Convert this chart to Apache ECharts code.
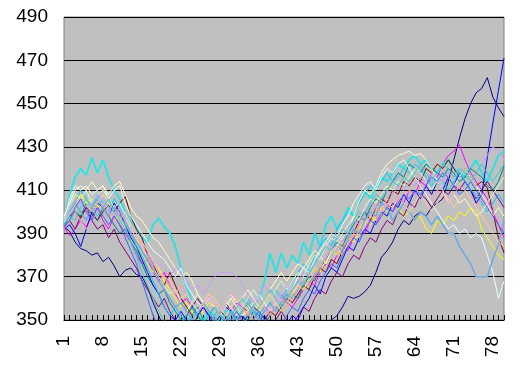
<!DOCTYPE html>
<html>
<head>
<meta charset="utf-8">
<script src="https://cdn.jsdelivr.net/npm/echarts@6/dist/echarts.min.js"></script>
<style>html,body{margin:0;padding:0;background:#fff;}#c{width:520px;height:368px;}</style>
</head>
<body>
<div id="c"></div>
<script>
var categories = [1,2,3,4,5,6,7,8,9,10,11,12,13,14,15,16,17,18,19,20,21,22,23,24,25,26,27,28,29,30,31,32,33,34,35,36,37,38,39,40,41,42,43,44,45,46,47,48,49,50,51,52,53,54,55,56,57,58,59,60,61,62,63,64,65,66,67,68,69,70,71,72,73,74,75,76,77,78,79,80];
var yTicks = [350,370,390,410,430,450,470,490];

var sNavy = [393,391,386,383,382,380,381,377,379,375, 370,373,374,371,370,365,358,352,346,344, 342,340,344,346,342,345,348,344,342,346, 349,345,343,347,344,342,346,348,344,342, 345,343,341,344,346,343,345,347,350,352, 356,361,360,361,363,366,372,379,382,386, 392,396,394,398,400,398,402,404,406,414, 424,434,443,450,455,457,462,453,448,444];
var sMagenta = [393,389,392,396,393,398,402,396,392,398, 394,390,386,380,376,378,372,368,372,366, 362,358,360,356,352,356,360,356,352,350, 354,358,356,352,356,360,356,354,358,362, 358,356,360,364,368,366,372,376,374,380, 384,382,388,392,390,396,394,400,404,400, 406,404,410,408,414,412,418,416,422,426, 428,431,424,418,414,410,406,400,394,388];
var sYellow = [396,400,404,408,404,406,402,404,400,396, 398,392,386,388,380,376,372,374,368,364, 360,356,358,354,350,354,358,356,352,356, 360,356,352,356,358,354,358,362,358,354, 358,362,366,364,370,374,372,378,382,380, 384,388,386,392,396,394,398,402,400,404, 402,398,400,396,398,392,390,396,394,398, 396,400,398,402,400,392,388,384,380,378];
var sCyan = [395,408,416,420,417,425,418,424,416,410, 406,400,396,392,388,386,394,397,393,390, 384,374,366,358,352,350,354,352,348,354, 354,350,347,352,356,360,368,381,372,381, 374,380,376,386,380,390,384,394,398,392, 396,402,398,405,410,406,412,416,414,418, 422,420,424,426,422,424,420,418,422,424, 420,418,416,420,424,418,414,420,426,428];
var sPurple = [393,396,392,398,402,396,392,394,388,392, 386,382,378,374,368,364,360,356,360,354, 350,348,352,356,360,356,352,350,354,358, 354,350,348,352,356,354,350,346,350,354, 350,348,352,356,354,360,364,362,368,372, 370,376,380,378,384,388,386,392,396,394, 400,398,404,402,408,406,402,406,410,408, 412,410,414,410,406,410,414,410,406,402];
var sDarkRed = [395,398,400,397,402,399,396,400,403,400, 404,407,398,392,388,380,376,370,366,372, 366,360,356,352,356,350,346,350,354,352, 348,352,356,354,350,346,350,354,352,356, 360,358,362,366,364,370,374,372,378,376, 382,386,390,396,400,396,402,406,404,410, 408,414,412,416,414,420,418,422,420,424, 420,416,420,416,412,414,411,400,388,381];
var sTeal = [394,396,400,398,404,400,396,402,398,394, 390,392,386,382,376,370,366,362,364,358, 354,350,352,356,352,348,352,356,352,348, 352,356,352,350,354,352,348,352,356,354, 358,362,360,366,370,368,374,378,382,386, 384,390,394,398,396,402,406,404,410,414, 418,416,422,420,418,422,420,418,416,420, 418,414,416,420,418,416,412,410,414,421];
var sBlue = [392,394,390,384,392,400,404,402,398,404, 400,394,388,384,378,372,366,362,356,352, 350,354,350,346,352,356,352,348,352,356, 354,350,352,348,346,350,352,348,350,346, 348,352,350,356,360,366,362,370,374,372, 378,384,382,388,392,390,396,400,398,404, 402,408,404,410,406,412,408,414,410,416, 412,418,414,410,404,408,425,441,456,471];
var sSky = [394,398,404,410,406,402,408,404,400,406, 402,396,390,384,380,374,368,362,356,352, 356,352,348,352,356,350,346,352,356,352, 348,352,356,360,356,352,356,360,364,360, 364,368,372,376,372,380,384,388,384,392, 396,400,398,404,408,412,410,414,418,414, 416,420,418,422,420,416,412,416,414,410, 414,418,414,410,408,404,400,404,408,404];
var sLightTurq = [396,406,412,410,412,408,410,412,406,410, 412,404,398,394,390,386,382,380,378,374, 370,374,366,362,358,356,360,356,352,356, 360,356,352,354,358,362,358,354,358,362, 366,364,370,374,372,378,382,386,390,388, 394,398,404,408,412,414,410,416,420,418, 422,424,420,416,412,408,404,400,396,392, 394,390,392,388,390,388,380,372,360,368];
var sLightGreen = [395,402,408,406,410,404,408,410,406,402, 404,398,392,388,384,378,374,370,366,362, 364,358,354,358,362,358,354,350,354,358, 356,352,356,360,364,360,356,360,364,368, 364,368,372,370,376,380,378,384,388,386, 390,394,398,396,402,406,404,408,412,410, 414,412,416,420,418,414,410,414,418,416, 412,416,420,416,412,408,404,408,412,416];
var sLightYellow = [398,404,410,412,410,414,410,412,408,412, 414,408,402,398,396,392,388,386,382,378, 374,370,372,368,362,358,362,358,354,358, 362,358,360,364,360,356,360,364,368,372, 368,372,376,374,378,382,380,376,382,384, 388,390,398,405,410,408,412,418,422,424, 426,427,428,426,427,424,420,414,410,404, 408,404,406,402,398,400,404,398,402,398];
var sPaleBlue = [394,400,404,400,396,402,406,402,398,402, 398,394,390,386,382,378,374,368,364,360, 356,358,354,350,354,358,354,350,346,350, 354,350,354,358,354,350,354,358,354,358, 362,360,364,368,366,372,376,374,380,384, 382,388,392,390,396,400,398,404,402,396, 400,404,400,396,400,398,394,398,394,390, 390,384,380,376,370,370,370,378,385,396];
var sRose = [392,396,400,396,392,396,400,404,400,396, 400,396,392,388,384,380,376,372,370,366, 362,366,362,358,354,358,362,358,354,358, 362,360,356,352,356,360,356,352,356,360, 356,360,364,368,366,370,374,380,384,382, 386,384,390,394,392,398,402,400,406,404, 408,406,410,408,412,410,406,410,408,404, 408,412,410,406,402,406,404,400,396,392];
var sLavender = [396,402,406,404,400,404,408,406,402,398, 402,398,394,390,386,382,378,376,374,370, 374,372,368,364,366,362,366,370,372,372, 372,370,366,362,358,362,366,362,358,362, 366,364,368,372,370,376,380,378,384,388, 386,392,396,394,400,404,402,406,410,408, 412,410,414,412,416,414,418,416,414,418, 416,420,418,414,418,422,426,430,428,424];
var sTan = [395,399,403,407,404,400,404,408,404,400, 396,400,394,390,386,382,378,374,370,368, 364,360,362,358,354,358,362,360,356,352, 356,360,358,354,350,354,358,362,358,354, 358,362,366,364,368,372,376,374,380,384, 380,386,390,388,394,398,396,400,404,402, 406,404,400,404,408,404,400,404,408,406, 402,406,410,406,402,398,394,390,386,384];
var sLightBlue = [393,396,402,406,400,396,402,398,394,398, 394,388,382,376,368,360,352,346,342,344, 340,344,348,344,340,346,350,346,342,346, 350,354,350,346,350,354,350,346,344,348, 352,356,354,360,364,362,368,372,376,374, 380,384,388,386,392,396,394,398,402,400, 404,408,406,410,408,412,416,414,418,416, 412,408,410,414,410,406,402,398,394,390];
var sAqua = [394,398,396,402,406,402,398,402,406,400, 396,392,386,380,372,366,360,354,350,346, 344,348,352,348,344,348,352,356,352,348, 352,356,360,356,352,356,360,364,360,356, 360,364,368,366,372,376,380,384,382,388, 392,390,396,400,398,404,408,406,410,414, 412,416,414,418,422,418,414,418,422,420, 416,420,418,414,418,422,418,414,418,422];

var seriesList = [
  ['#000080', sNavy, 1],
  ['#FF00FF', sMagenta, 1],
  ['#FFFF00', sYellow, 1],
  ['#33E0E0', sCyan, 2],
  ['#800080', sPurple, 1],
  ['#800000', sDarkRed, 1],
  ['#008080', sTeal, 1],
  ['#0000FF', sBlue, 1],
  ['#00CCFF', sSky, 1],
  ['#E8FFFF', sLightTurq, 1],
  ['#CCFFCC', sLightGreen, 1],
  ['#FFFFCC', sLightYellow, 1],
  ['#6FA8DC', sPaleBlue, 1.5],
  ['#FF99CC', sRose, 1],
  ['#CC99FF', sLavender, 1],
  ['#FFCC99', sTan, 1],
  ['#3366FF', sLightBlue, 1],
  ['#33CCCC', sAqua, 1]
];

var chart = echarts.init(document.getElementById('c'), null, {renderer: 'canvas'});
chart.setOption({
  animation: false,
  backgroundColor: '#ffffff',
  grid: {left: 64, right: 16, top: 17, bottom: 48, show: true, backgroundColor: '#c0c0c0', borderColor: '#808080', borderWidth: 1},
  xAxis: {
    type: 'category', data: categories, boundaryGap: false,
    axisLine: {lineStyle: {color: '#000', width: 1}},
    axisTick: {show: true, inside: true, interval: 0, length: 5, lineStyle: {color: '#000'}},
    axisLabel: {interval: 6, rotate: 90, margin: 16, fontSize: 19, color: '#000', fontFamily: 'Liberation Sans, Arial, sans-serif'},
    splitLine: {show: false}
  },
  yAxis: {
    type: 'value', min: yTicks[0], max: yTicks[yTicks.length - 1], interval: 20,
    axisLine: {show: false}, axisTick: {show: false},
    axisLabel: {margin: 16, fontSize: 19, color: '#000', fontFamily: 'Liberation Sans, Arial, sans-serif'},
    splitLine: {show: true, lineStyle: {color: '#000', width: 1}}
  },
  series: seriesList.map(function (s) {
    return {type: 'line', data: s[1], symbol: 'none', clip: true, lineStyle: {color: s[0], width: s[2]}, itemStyle: {color: s[0]}};
  })
});
</script>
</body>
</html>
